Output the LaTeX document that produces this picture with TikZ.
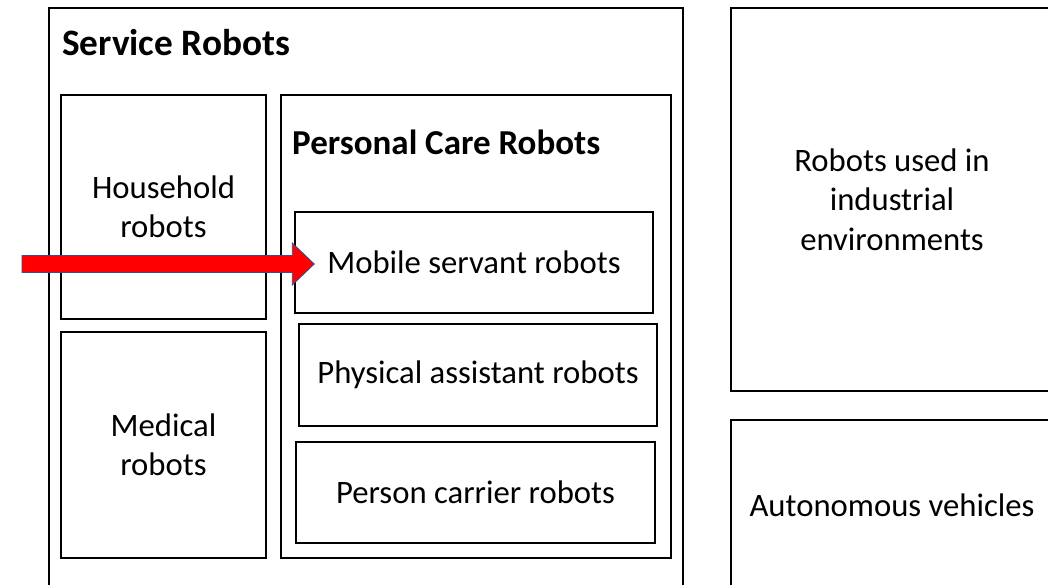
\documentclass[tikz,border=0pt]{standalone}
\usepackage{fontspec}
\setmainfont{Carlito}
\usetikzlibrary{calc}

\tikzset{
  box/.style={draw=black, line width=1.5pt, rectangle, inner sep=0pt, fill=none},
  txt/.style={font=\fontsize{32.7pt}{39.5pt}\selectfont, align=center},
  heading/.style={font=\fontsize{35pt}{42pt}\selectfont\bfseries, inner sep=0pt},
  bigheading/.style={heading, font=\fontsize{37.3pt}{44pt}\selectfont\bfseries},
  bigarrow/.style={fill=red, draw={rgb,255:red,47;green,82;blue,143}, line width=0.8pt, line join=miter},
}

\begin{document}
\begin{tikzpicture}[x=1pt, y=-1pt]
  \useasboundingbox (0,0) rectangle (1048,585);
  \fill[white] (0,0) rectangle (1048,585);
  \clip (0,0) rectangle (1048,585);

  % service robots group
  \node[box, minimum width=634pt, minimum height=612pt] (service) at (366,314) {};
  \node[bigheading, anchor=base west] (servicetitle) at (62,56) {Service Robots};

  \node[box, txt, minimum width=205pt, minimum height=224pt] (household) at (163.5,207) {Household\\robots};
  \node[box, txt, minimum width=205pt, minimum height=226pt] (medical) at (163.5,445) {Medical\\robots};

  % personal care robots group
  \node[box, minimum width=390pt, minimum height=463pt] (personal) at (476,326.5) {};
  \node[heading, anchor=base west] (personaltitle) at (292,155) {Personal Care Robots};

  \node[box, txt, minimum width=358pt, minimum height=101pt] (mobile) at (474,262.5) {Mobile servant robots};
  \node[box, txt, minimum width=358pt, minimum height=102pt] (physical) at (478,375) {Physical assistant robots};
  \node[box, txt, minimum width=359pt, minimum height=101pt] (carrier) at (475.5,492.5) {Person carrier robots};

  % other categories
  \node[box, txt, minimum width=322pt, minimum height=383pt] (industrial) at (892,199.5) {Robots used in\\industrial\\environments};
  \node[box, txt, minimum width=322pt, minimum height=170pt] (autonomous) at (892,505) {Autonomous vehicles};

  % block arrow into the mobile servant robots box
  \coordinate (tail) at (22,264);
  \coordinate (tipx) at ([xshift=20pt]mobile.west);
  \coordinate (tip) at (tipx |- tail);
  \draw[bigarrow]
    ([shift={(0,-8.5)}]tail) -- ([shift={(-22,-8.5)}]tip) -- ([shift={(-22,-21)}]tip)
    -- (tip)
    -- ([shift={(-22,21)}]tip) -- ([shift={(-22,8.5)}]tip) -- ([shift={(0,8.5)}]tail) -- cycle;
\end{tikzpicture}
\end{document}
